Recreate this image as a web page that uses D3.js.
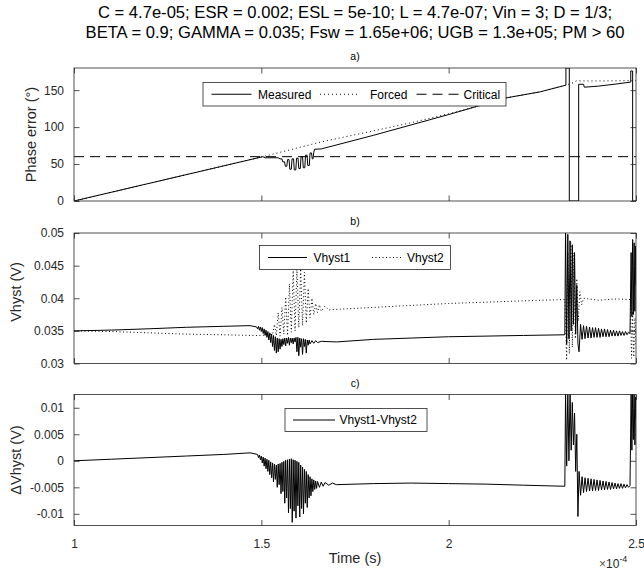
<!DOCTYPE html>
<html><head><meta charset="utf-8">
<script src="https://cdn.jsdelivr.net/npm/d3@7"></script>
<style>
body{margin:0;background:#fff}
svg{display:block}
text{font-family:"Liberation Sans",Arial,Helvetica,sans-serif;fill:#262626}
</style>
</head><body>
<svg id="chart" width="644" height="576"></svg>
<script>
// ---------- text ----------
const titleLines = [
  "C = 4.7e-05; ESR = 0.002; ESL = 5e-10; L = 4.7e-07; Vin = 3; D = 1/3;",
  "BETA = 0.9; GAMMA = 0.035; Fsw = 1.65e+06; UGB = 1.3e+05; PM > 60"
];
const panelTags = ["a)", "b)", "c)"];
const yLabels = ["Phase error (\u00B0)", "Vhyst (V)", "\u0394Vhyst (V)"];
const xLabel = "Time (s)";
const legendA = ["Measured", "Forced", "Critical"];
const legendB = ["Vhyst1", "Vhyst2"];
const legendC = ["Vhyst1-Vhyst2"];

// ---------- ticks (time in units of 1e-4 s) ----------
const xDomain = [1, 2.5];
const xTicks = [1, 1.5, 2, 2.5];
const phaseDomain = [0, 180];
const phaseTicks = [0, 50, 100, 150];
const vhystDomain = [0.03, 0.05];
const vhystTicks = [0.03, 0.035, 0.04, 0.045, 0.05];
const dvDomain = [-0.0122, 0.0125];
const dvTicks = [-0.01, -0.005, 0, 0.005, 0.01];

// ---------- data: [time (1e-4 s), value] ----------
const measured = [
  [1.00,0],[1.504,60],[1.51,58.5],[1.545,58.5],[1.55,57],[1.555,57],[1.557,53],[1.562,53],
  [1.564,47],[1.568,47],[1.57,56],[1.574,56],[1.576,43],[1.58,43],[1.582,57],[1.586,57],
  [1.588,42],[1.592,42],[1.594,58],[1.598,58],[1.60,44],[1.604,44],[1.606,60],[1.61,60],
  [1.612,45],[1.616,45],[1.618,62],[1.622,62],[1.624,48],[1.628,48],[1.63,65],[1.634,65],
  [1.636,57],[1.638,57],[1.64,66],[1.642,70],[1.66,70.5],[1.80,89],[2.00,117],[2.075,128],
  [2.153,139.5],[2.244,147.7],[2.313,156.8],[2.313,180],[2.322,180],[2.322,0],[2.347,0],
  [2.347,158],[2.36,158],[2.362,154],[2.40,155.5],[2.45,158.5],[2.486,161],[2.486,176],
  [2.491,176],[2.491,0],[2.50,0]
];
const forced = [
  [1.00,0],[1.504,60],[1.66,80],[1.80,95],[1.90,106],[2.00,118],[2.075,128],[2.153,139.5],
  [2.244,147.7],[2.313,156.8],[2.332,160],[2.34,162.5],[2.42,162.5],[2.50,163]
];
const critical = [[1.00,60],[2.50,60]];

const vhyst1 = [
  [1.00,0.0350],[1.10,0.03512],[1.20,0.03532],[1.30,0.03555],[1.40,0.0357],[1.47,0.0358],
  [1.4875,0.0356],[1.49,0.0353],[1.4925,0.0357],[1.495,0.0351],[1.4975,0.0356],[1.50,0.0349],
  [1.5025,0.0355],[1.505,0.0346],[1.5075,0.0353],[1.51,0.0343],[1.5125,0.0351],[1.515,0.0340],
  [1.5175,0.0349],[1.52,0.0336],[1.5225,0.0347],[1.525,0.0332],[1.5275,0.0345],[1.53,0.0326],
  [1.5325,0.0343],[1.535,0.0320],[1.5375,0.0341],[1.54,0.0316],[1.5425,0.0339],[1.545,0.0318],
  [1.5475,0.0338],[1.55,0.0322],[1.5525,0.0337],[1.555,0.0326],[1.5575,0.0338],[1.56,0.0329],
  [1.5625,0.0339],[1.565,0.0327],[1.5675,0.0339],[1.57,0.0331],[1.5725,0.0340],[1.575,0.0328],
  [1.5775,0.0339],[1.58,0.0332],[1.5825,0.0339],[1.585,0.0330],[1.5875,0.0339],[1.59,0.0333],
  [1.5925,0.0340],[1.595,0.0318],[1.5975,0.0340],[1.60,0.0312],[1.6025,0.0339],[1.605,0.0325],
  [1.6075,0.0338],[1.61,0.0314],[1.6125,0.0338],[1.615,0.0326],[1.6175,0.0337],[1.62,0.0316],
  [1.6225,0.0336],[1.625,0.0328],[1.6275,0.0336],[1.63,0.0330],[1.635,0.0335],[1.64,0.0331],
  [1.645,0.0335],[1.65,0.0332],[1.66,0.0334],[1.70,0.0333],[1.80,0.0337],[1.90,0.0339],
  [2.00,0.0341],[2.10,0.0342],[2.20,0.0343],[2.31,0.0344],[2.312,0.0510],[2.315,0.0330],
  [2.318,0.0498],[2.321,0.0338],[2.324,0.0488],[2.327,0.0350],[2.33,0.0482],[2.333,0.0360],
  [2.336,0.0470],[2.339,0.0345],[2.342,0.0420],[2.345,0.0330],[2.348,0.0318],[2.352,0.0360],
  [2.356,0.0337],[2.36,0.0358],[2.364,0.0338],[2.368,0.0357],[2.372,0.0339],[2.376,0.0356],
  [2.38,0.0339],[2.384,0.0355],[2.388,0.0340],[2.392,0.0355],[2.396,0.0340],[2.40,0.0354],
  [2.404,0.0340],[2.408,0.0353],[2.412,0.0341],[2.416,0.0353],[2.42,0.0341],[2.424,0.0352],
  [2.428,0.0341],[2.432,0.0351],[2.436,0.0342],[2.44,0.0351],[2.444,0.0342],[2.448,0.0350],
  [2.452,0.0342],[2.456,0.0350],[2.46,0.0343],[2.464,0.0349],[2.468,0.0343],[2.472,0.0349],
  [2.476,0.0344],[2.48,0.0348],[2.484,0.0346],[2.487,0.0470],[2.489,0.0372],[2.491,0.0490],
  [2.493,0.0375],[2.495,0.0485],[2.497,0.0380],[2.499,0.0480],[2.50,0.0420]
];
const vhyst2 = [
  [1.00,0.0350],[1.10,0.0349],[1.20,0.0347],[1.30,0.0345],[1.40,0.0344],[1.47,0.0343],
  [1.50,0.0343],[1.53,0.0345],[1.535,0.0360],[1.54,0.0343],[1.545,0.0378],[1.55,0.0342],
  [1.555,0.0386],[1.56,0.0345],[1.565,0.0402],[1.57,0.0343],[1.575,0.0422],[1.58,0.0348],
  [1.585,0.0445],[1.59,0.0350],[1.595,0.0446],[1.60,0.0355],[1.605,0.0445],[1.61,0.0358],
  [1.615,0.0440],[1.62,0.0362],[1.625,0.0415],[1.63,0.0370],[1.635,0.0400],[1.64,0.0375],
  [1.645,0.0392],[1.65,0.0378],[1.655,0.0390],[1.66,0.0380],[1.67,0.0388],[1.68,0.0382],
  [1.70,0.0383],[1.80,0.0386],[1.90,0.0389],[2.00,0.0392],[2.10,0.0394],[2.20,0.0396],
  [2.31,0.0398],[2.315,0.0305],[2.318,0.0470],[2.322,0.0315],[2.326,0.0485],[2.33,0.0325],
  [2.334,0.0470],[2.338,0.0338],[2.342,0.0430],[2.346,0.0365],[2.35,0.0410],[2.355,0.0390],
  [2.36,0.0400],[2.40,0.0397],[2.45,0.0399],[2.485,0.0398],[2.488,0.0308],[2.491,0.0380],
  [2.494,0.0310],[2.497,0.0370],[2.50,0.0330]
];
const dvhyst = [
  [1.00,0.0000],[1.10,0.0003],[1.20,0.0006],[1.30,0.0009],[1.40,0.0012],[1.47,0.0015],
  [1.49,0.0012],[1.4925,0.0006],[1.495,0.0011],[1.4975,0.0002],[1.50,0.0009],[1.5025,-0.0004],
  [1.505,0.0007],[1.5075,-0.0010],[1.51,0.0005],[1.5125,-0.0015],[1.515,0.0003],[1.5175,-0.0020],
  [1.52,0.0001],[1.5225,-0.0026],[1.525,-0.0002],[1.5275,-0.0032],[1.53,-0.0004],[1.5325,-0.0040],
  [1.535,-0.0006],[1.5375,-0.0035],[1.54,-0.0008],[1.5425,-0.0050],[1.545,-0.0006],[1.5475,-0.0045],
  [1.55,-0.0005],[1.5525,-0.0062],[1.555,-0.0003],[1.5575,-0.0058],[1.56,-0.0001],[1.5625,-0.0080],
  [1.565,0.0001],[1.5675,-0.0070],[1.57,0.0002],[1.5725,-0.0098],[1.575,0.0003],[1.5775,-0.0090],
  [1.58,0.0004],[1.5825,-0.0116],[1.585,0.0002],[1.5875,-0.0095],[1.59,0.0001],[1.5925,-0.0108],
  [1.595,-0.0001],[1.5975,-0.0085],[1.60,-0.0003],[1.6025,-0.0106],[1.605,-0.0008],[1.6075,-0.0090],
  [1.61,-0.0012],[1.6125,-0.0100],[1.615,-0.0016],[1.6175,-0.0080],[1.62,-0.0020],[1.6225,-0.0088],
  [1.625,-0.0026],[1.6275,-0.0070],[1.63,-0.0030],[1.6325,-0.0066],[1.635,-0.0034],[1.6375,-0.0058],
  [1.64,-0.0036],[1.6425,-0.0054],[1.645,-0.0038],[1.6475,-0.0052],[1.65,-0.0039],[1.655,-0.0050],
  [1.66,-0.0040],[1.665,-0.0048],[1.67,-0.0041],[1.68,-0.0046],[1.69,-0.0042],[1.70,-0.0045],
  [1.80,-0.0043],[1.90,-0.0042],[2.00,-0.0043],[2.10,-0.0044],[2.20,-0.0046],[2.31,-0.0048],
  [2.312,0.0130],[2.315,-0.0010],[2.318,0.0130],[2.321,0.0000],[2.324,0.0130],[2.327,0.0020],
  [2.33,0.0110],[2.333,0.0030],[2.336,0.0090],[2.339,-0.0020],[2.342,0.0050],[2.345,-0.0105],
  [2.348,-0.0020],[2.352,-0.0065],[2.356,-0.0030],[2.36,-0.0060],[2.364,-0.0032],[2.368,-0.0058],
  [2.372,-0.0033],[2.376,-0.0057],[2.38,-0.0034],[2.384,-0.0057],[2.388,-0.0035],[2.392,-0.0056],
  [2.396,-0.0036],[2.40,-0.0056],[2.404,-0.0037],[2.408,-0.0055],[2.412,-0.0038],[2.416,-0.0055],
  [2.42,-0.0039],[2.424,-0.0054],[2.428,-0.0040],[2.432,-0.0054],[2.436,-0.0041],[2.44,-0.0053],
  [2.444,-0.0042],[2.448,-0.0053],[2.452,-0.0043],[2.456,-0.0052],[2.46,-0.0043],[2.464,-0.0052],
  [2.468,-0.0044],[2.472,-0.0051],[2.476,-0.0045],[2.48,-0.0050],[2.484,-0.0047],[2.487,0.0130],
  [2.489,0.0020],[2.491,0.0130],[2.493,0.0040],[2.495,0.0130],[2.497,0.0030],[2.499,0.0120],
  [2.50,0.0080]
];

// ---------- layout ----------
const svg = d3.select("#chart");
const L = 74, R = 636;
const AX = "#262626";
const panels = [
  {top:68, bottom:201, domain:phaseDomain, ticks:phaseTicks, label:yLabels[0], labelX:36, labelY:134.5,
   series:[{d:measured,dash:null},{d:forced,dash:"1,3"},{d:critical,dash:"10,6"}]},
  {top:233, bottom:363.5, domain:vhystDomain, ticks:vhystTicks, label:yLabels[1], labelX:20.5, labelY:292,
   series:[{d:vhyst1,dash:null},{d:vhyst2,dash:"1,2.5"}]},
  {top:394.5, bottom:525.5, domain:dvDomain, ticks:dvTicks, label:yLabels[2], labelX:20.5, labelY:460,
   series:[{d:dvhyst,dash:null}]}
];

const x = d3.scaleLinear().domain(xDomain).range([L, R]);

// title
svg.append("text").attr("x", (L+R)/2).attr("y", 18).attr("text-anchor","middle")
  .style("font-size","16.6px").style("fill","#000").text(titleLines[0]);
svg.append("text").attr("x", (L+R)/2).attr("y", 38).attr("text-anchor","middle")
  .style("font-size","16.6px").style("fill","#000").text(titleLines[1]);

const defs = svg.append("defs");

panels.forEach((p, i) => {
  const y = d3.scaleLinear().domain(p.domain).range([p.bottom, p.top]);
  const g = svg.append("g");
  defs.append("clipPath").attr("id","clip"+i).append("rect")
    .attr("x", L).attr("y", p.top).attr("width", R-L).attr("height", p.bottom-p.top);

  const line = d3.line().x(d => x(d[0])).y(d => y(d[1]));
  const dg = g.append("g").attr("clip-path","url(#clip"+i+")");
  p.series.forEach(s => {
    dg.append("path").attr("d", line(s.d)).attr("fill","none").attr("stroke","#000")
      .attr("stroke-width", 1).attr("stroke-dasharray", s.dash);
  });

  const tl = 5.5;
  const left = d3.axisLeft(y).tickValues(p.ticks).tickSizeInner(-tl).tickSizeOuter(0).tickPadding(10).tickFormat(d => String(d));
  const right = d3.axisRight(y).tickValues(p.ticks).tickSizeInner(-tl).tickSizeOuter(0).tickFormat("");
  const bottom = d3.axisBottom(x).tickValues(xTicks).tickSizeInner(-tl).tickSizeOuter(0).tickPadding(14)
    .tickFormat(i === 2 ? (d => String(d)) : "");
  const top = d3.axisTop(x).tickValues(xTicks).tickSizeInner(-tl).tickSizeOuter(0).tickFormat("");
  const style = sel => {
    sel.selectAll("path.domain").remove();
    sel.selectAll("line").attr("stroke", AX).attr("stroke-width", 0.8);
    sel.selectAll("text").style("font-size","12px").style("font-family",'"Liberation Sans",Arial,sans-serif').attr("fill", AX);
  };
  g.append("g").attr("transform",`translate(${L},0)`).call(left).call(style);
  g.append("g").attr("transform",`translate(${R},0)`).call(right).call(style);
  g.append("g").attr("transform",`translate(0,${p.bottom})`).call(bottom).call(style);
  g.append("g").attr("transform",`translate(0,${p.top})`).call(top).call(style);
  g.append("rect").attr("x", L).attr("y", p.top).attr("width", R-L).attr("height", p.bottom-p.top)
    .attr("fill","none").attr("stroke", AX).attr("stroke-width", 0.8);

  svg.append("text").attr("transform", `translate(${p.labelX},${p.labelY}) rotate(-90)`)
    .attr("text-anchor","middle").style("font-size","14.5px").text(p.label);
  svg.append("text").attr("x", (L+R)/2).attr("y", p.top - 8).attr("text-anchor","middle")
    .style("font-size","10.5px").style("fill","#000").text(panelTags[i]);
});

// x label and exponent
svg.append("text").attr("x", (L+R)/2).attr("y", 563).attr("text-anchor","middle")
  .style("font-size","14.5px").text(xLabel);
const ex = svg.append("text").attr("x", 599).attr("y", 568).style("font-size","12px");
ex.append("tspan").style("fill","#555").text("\u00D7");
ex.append("tspan").text("10");
ex.append("tspan").attr("dy", -6).style("font-size","9px").text("-4");

// ---------- legends ----------
function legend(box, items) {
  const g = svg.append("g");
  g.append("rect").attr("x", box[0]).attr("y", box[1]).attr("width", box[2]-box[0]).attr("height", box[3]-box[1])
    .attr("fill","#fff").attr("stroke", AX).attr("stroke-width", 0.8);
  const cy = (box[1]+box[3])/2;
  items.forEach(it => {
    g.append("line").attr("x1", it.x1).attr("x2", it.x2).attr("y1", cy).attr("y2", cy)
      .attr("stroke","#000").attr("stroke-width",1).attr("stroke-dasharray", it.dash);
    g.append("text").attr("x", it.tx).attr("y", cy + 4.3).style("font-size","12px").style("fill","#000").text(it.label);
  });
}
legend([203, 82.5, 506, 106], [
  {x1:211.5, x2:251.5, dash:null, tx:258, label:legendA[0]},
  {x1:320, x2:360, dash:"1,3", tx:370, label:legendA[1]},
  {x1:416.5, x2:458.5, dash:"10,6", tx:463.5, label:legendA[2]}
]);
legend([259.5, 245.5, 450.5, 269.5], [
  {x1:268, x2:307, dash:null, tx:313.5, label:legendB[0]},
  {x1:372, x2:401, dash:"1,2.5", tx:407, label:legendB[1]}
]);
legend([285, 408.5, 427, 431.5], [
  {x1:293, x2:335, dash:null, tx:339.5, label:legendC[0]}
]);
</script>
</body></html>
